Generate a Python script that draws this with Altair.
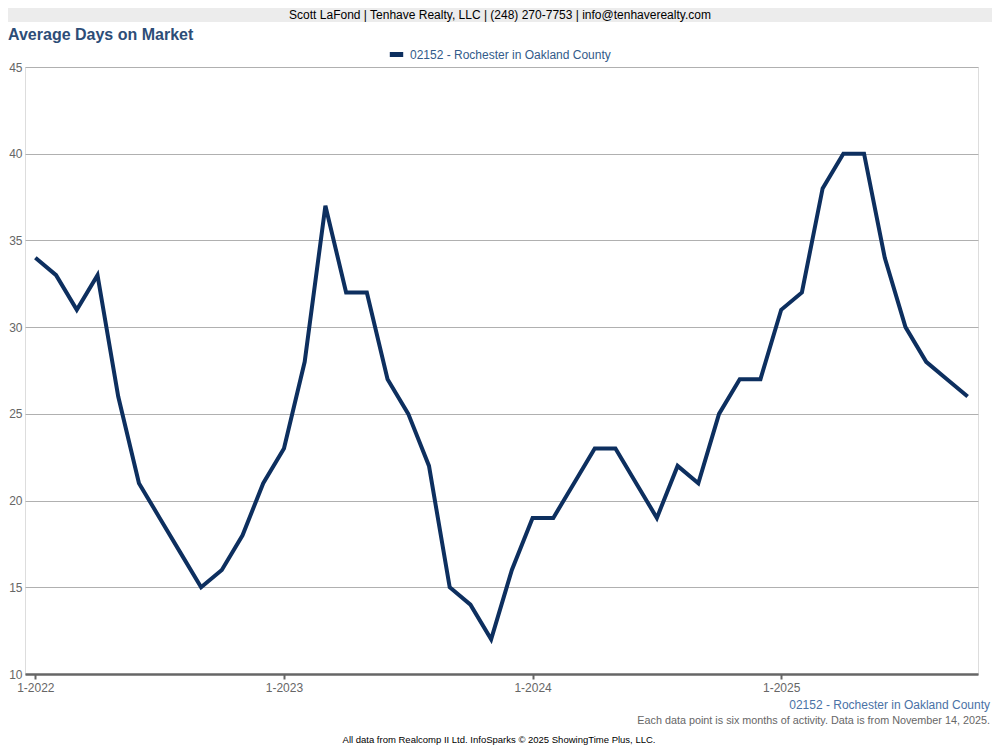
import altair as alt
import pandas as pd

months = [f"{y}-{m:02d}" for y in range(2022, 2026) for m in range(1, 13)][:46]
values = [34, 33, 31, 33, 26, 21, 19, 17, 15, 16, 18, 21,
          23, 28, 37, 32, 32, 27, 25, 22, 15, 14, 12, 16,
          19, 19, 21, 23, 23, 21, 19, 22, 21, 25, 27, 27,
          31, 32, 38, 40, 40, 34, 30, 28, 27, 26]
series_name = "02152 - Rochester in Oakland County"
x_tick_idx = [0, 12, 24, 36]
y_ticks = [10, 15, 20, 25, 30, 35, 40, 45]

banner_text = "Scott LaFond | Tenhave Realty, LLC | (248) 270-7753 | info@tenhaverealty.com"
title_text = "Average Days on Market"
note_text = "Each data point is six months of activity. Data is from November 14, 2025."
footer_text = "All data from Realcomp II Ltd. InfoSparks \u00a9 2025 ShowingTime Plus, LLC."

df = pd.DataFrame({"month": months, "value": values,
                   "idx": list(range(len(months))), "series": series_name})

SANS = "Liberation Sans, Arial, sans-serif"
W, H = 953, 607

line = alt.Chart(df).mark_line(strokeWidth=4, strokeJoin="miter").encode(
    x=alt.X("idx:Q", scale=alt.Scale(domain=[-0.5, 45.5], nice=False, zero=False),
            axis=alt.Axis(values=x_tick_idx, labelExpr="'1-' + (2022 + datum.value / 12)",
                          grid=False, title=None, domainColor="#666666", domainWidth=2.5,
                          tickColor="#666666", tickWidth=2, tickSize=5,
                          labelColor="#666666", labelFontSize=12, labelFont=SANS,
                          labelPadding=3)),
    y=alt.Y("value:Q", scale=alt.Scale(domain=[10, 45], nice=False, zero=False),
            axis=alt.Axis(values=y_ticks, grid=True, gridColor="#b0b0b0", gridWidth=1,
                          domain=False, ticks=False, title=None, labelColor="#666666",
                          labelFontSize=12, labelFont=SANS, labelPadding=3)),
    color=alt.Color("series:N", scale=alt.Scale(domain=[series_name], range=["#0d2f5f"]),
                    legend=alt.Legend(orient="none", legendX=362, legendY=-22, title=None,
                                      symbolType="stroke", symbolStrokeWidth=5,
                                      symbolSize=180, labelColor="#335b8a",
                                      labelFontSize=12, labelFont=SANS, labelLimit=400)),
)

banner = alt.Chart(pd.DataFrame({"t": [banner_text]})).mark_rect(color="#ececec").encode(
    x=alt.value(-25), x2=alt.value(975), y=alt.value(-67), y2=alt.value(-45))

def txt(text, x, y, size, color, align="center", weight="normal", font=SANS):
    return alt.Chart(pd.DataFrame({"t": [text]})).mark_text(
        align=align, baseline="middle", fontSize=size, color=color,
        fontWeight=weight, font=font).encode(text="t:N", x=alt.value(x), y=alt.value(y))

layers = [
    banner,
    txt(banner_text, 475, -52, 12, "#000000"),
    txt(title_text, -17, -32, 16, "#2d4d77", align="left", weight="bold"),
    line,
    txt(series_name, 965, 638, 12, "#4a72a6", align="right"),
    txt(note_text, 965, 654, 10.8, "#666666", align="right"),
    txt(footer_text, 474, 673, 9.5, "#000000"),
]

chart = alt.layer(*layers).properties(
    width=W, height=H,
    autosize=alt.AutoSizeParams(type="none"),
    padding={"left": 17, "top": 59, "right": 14, "bottom": 75},
).configure_view(stroke=None).configure(background="white")

chart.save("out.html", embed_options={"renderer": "svg", "actions": False})
